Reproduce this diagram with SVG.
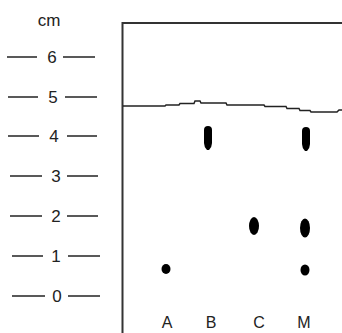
<svg xmlns="http://www.w3.org/2000/svg" width="342" height="333" viewBox="0 0 342 333">
<style>
.t{font-family:"Liberation Sans","DejaVu Sans",Arial,sans-serif;font-size:17px;fill:#222;text-anchor:middle}
.lbl{font-size:16px}
.tick{stroke:#222;stroke-width:1.5;fill:none}
.box{stroke:#333;stroke-width:2;fill:none}
.spot{fill:#000}
</style>
<defs>
<path id="tall" d="M-4,-8 Q-4,-12 0,-12 Q4,-12 4,-8 L4,5 Q4,9 1,12 L-1,12 Q-4,9 -4,5 Z"/>
</defs>
<rect width="342" height="333" fill="#fff"/>
<g id="scale">
<text class="t" x="49" y="26">cm</text>
<g id="s6"><line class="tick" x1="7" y1="57" x2="37" y2="57"/><text class="t" x="52" y="63">6</text><line class="tick" x1="63" y1="57" x2="95" y2="57"/></g>
<g id="s5"><line class="tick" x1="8" y1="97" x2="38" y2="97"/><text class="t" x="53" y="103">5</text><line class="tick" x1="65" y1="97" x2="97" y2="97"/></g>
<g id="s4"><line class="tick" x1="8" y1="136" x2="39" y2="136"/><text class="t" x="54" y="142">4</text><line class="tick" x1="67" y1="136" x2="97" y2="136"/></g>
<g id="s3"><line class="tick" x1="10" y1="176" x2="42" y2="176"/><text class="t" x="56" y="182">3</text><line class="tick" x1="67" y1="176" x2="98" y2="176"/></g>
<g id="s2"><line class="tick" x1="10" y1="216" x2="42" y2="216"/><text class="t" x="56" y="222">2</text><line class="tick" x1="67" y1="216" x2="98" y2="216"/></g>
<g id="s1"><line class="tick" x1="12" y1="256" x2="43" y2="256"/><text class="t" x="56" y="262">1</text><line class="tick" x1="68" y1="256" x2="100" y2="256"/></g>
<g id="s0"><line class="tick" x1="12" y1="296" x2="45" y2="296"/><text class="t" x="57" y="302">0</text><line class="tick" x1="68" y1="296" x2="100" y2="296"/></g>
</g>
<g id="plate">
<path class="box" d="M342,23 H122.5 V333"/>
<polyline class="tick" points="123,106 165,106 166,105 179,105 180,103.5 194,103.5 195,101 200,101 201,103 226,103 227,105 264,105 265,106.5 286,106.5 287,108.5 299,108.5 300,110.5 310,110.5 311,112 337,112 339,110 342,110"/>
</g>
<g id="spots">
<use href="#tall" class="spot" x="208" y="138"/>
<use href="#tall" class="spot" x="306" y="139"/>
<ellipse class="spot" cx="254" cy="226" rx="5" ry="9"/>
<ellipse class="spot" cx="305" cy="228" rx="5" ry="9.5"/>
<ellipse class="spot" cx="166" cy="269" rx="4.5" ry="5"/>
<ellipse class="spot" cx="305" cy="270" rx="4.5" ry="5.5"/>
</g>
<g id="labels">
<text class="t lbl" x="167" y="328">A</text>
<text class="t lbl" x="211" y="328">B</text>
<text class="t lbl" x="259" y="328">C</text>
<text class="t lbl" x="304" y="328">M</text>
</g>
</svg>
